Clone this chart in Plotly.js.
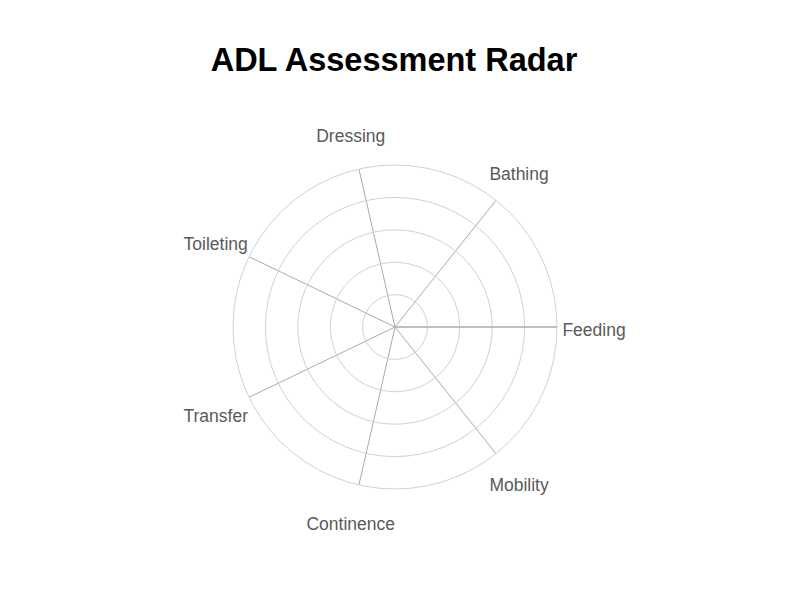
<!DOCTYPE html>
<html>
<head>
<meta charset="utf-8">
<script src="https://cdn.plot.ly/plotly-3.0.1.min.js"></script>
<style>
  html, body { margin: 0; padding: 0; background: #fff; }
  #chart { width: 800px; height: 600px; }
</style>
</head>
<body>
<div id="chart"></div>
<script>
// ADL items, counter-clockwise from 0 deg
var categories = ["Feeding", "Bathing", "Dressing", "Toileting", "Transfer", "Continence", "Mobility"];
// no scores are drawn in the reference chart
var scores = [null, null, null, null, null, null, null];
var radialRange = [0, 5];
// item names ride on a bigger hidden ring, r = 1 of [0, 1]
var labelRadius = categories.map(function () { return 1; });

var trace = {
  type: "scatterpolar",
  subplot: "polar",
  r: scores,
  theta: categories,
  mode: "lines",
  fill: "toself",
  showlegend: false,
  hoverinfo: "skip"
};

var labels = {
  type: "scatterpolar",
  subplot: "polar2",
  r: labelRadius,
  theta: categories,
  mode: "text",
  text: categories,
  textposition: "middle center",
  textfont: { size: 17.5, color: "#5a5a5a", family: "Liberation Sans, Arial, sans-serif" },
  cliponaxis: false,
  showlegend: false,
  hoverinfo: "skip"
};

var hiddenAxis = {
  showline: false, showgrid: false, showticklabels: false, ticks: ""
};

var layout = {
  width: 800,
  height: 600,
  paper_bgcolor: "#fff",
  font: { family: "Liberation Sans, Arial, sans-serif", color: "#5a5a5a" },
  title: {
    text: "<b>ADL Assessment Radar</b>",
    font: { size: 32.5, color: "#000", family: "Liberation Sans, Arial, sans-serif" },
    x: 0.4925, xanchor: "center",
    y: 0.9, yanchor: "middle"
  },
  margin: { l: 0, r: 0, t: 0, b: 0 },
  showlegend: false,
  polar: {
    domain: { x: [0.29125, 0.69625], y: [0.185, 0.725] },
    bgcolor: "rgba(0,0,0,0)",
    radialaxis: {
      range: radialRange,
      dtick: 1,
      showticklabels: false,
      ticks: "",
      showline: true,
      linecolor: "#aaa",
      linewidth: 1,
      gridcolor: "#d0d0d0",
      gridwidth: 1
    },
    angularaxis: {
      type: "category",
      categoryorder: "array",
      categoryarray: categories,
      rotation: 0,
      direction: "counterclockwise",
      showticklabels: false,
      ticks: "",
      showline: true,
      linecolor: "#d0d0d0",
      gridcolor: "#aaa",
      gridwidth: 1
    }
  },
  polar2: {
    domain: { x: [0.24500, 0.74250], y: [0.11583, 0.77917] },
    bgcolor: "rgba(0,0,0,0)",
    radialaxis: Object.assign({ range: [0, 1] }, hiddenAxis),
    angularaxis: Object.assign({
      type: "category",
      categoryorder: "array",
      categoryarray: categories,
      rotation: 0,
      direction: "counterclockwise"
    }, hiddenAxis)
  }
};

Plotly.newPlot("chart", [trace, labels], layout, { displayModeBar: false, staticPlot: true });
</script>
</body>
</html>
